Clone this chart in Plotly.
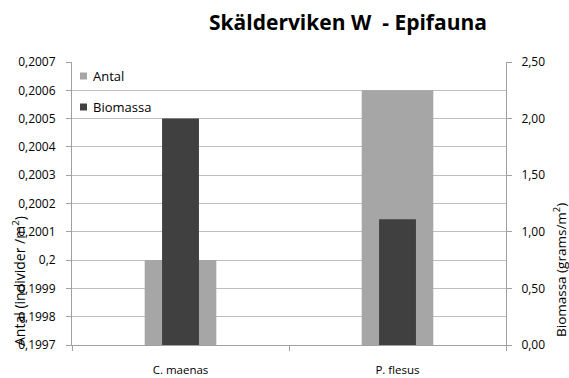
import plotly.graph_objects as go

categories = ["C. maenas", "P. flesus"]
antal = [0.2000, 0.2006]
biomassa = [2.00, 1.11]

left_ticks = [0.1997, 0.1998, 0.1999, 0.2000, 0.2001, 0.2002, 0.2003, 0.2004, 0.2005, 0.2006, 0.2007]
left_labels = ["0,1997", "0,1998", "0,1999", "0,2", "0,2001", "0,2002", "0,2003",
               "0,2004", "0,2005", "0,2006", "0,2007"]
right_ticks = [0.0, 0.5, 1.0, 1.5, 2.0, 2.5]

series_names = ["Antal", "Biomassa"]
series_colors = ["#A6A6A6", "#404040"]

FONT = "Open Sans"
AXIS_GRAY = "#A0A0A0"
GRID_GRAY = "#BFBFBF"

# page and plot-area geometry (pixels)
W, H = 569, 378
L, R, T, B = 72, 63, 62, 33
pw, ph = W - L - R, H - T - B


def px_x(x):
    return (x - L) / pw


def px_y(y):
    return (H - B - y) / ph


fig = go.Figure()
fig.add_trace(go.Bar(
    x=categories, y=antal, name=series_names[0], yaxis="y",
    marker=dict(color=series_colors[0], line=dict(width=0)),
    width=0.33,
))
fig.add_trace(go.Bar(
    x=categories, y=biomassa, name=series_names[1], yaxis="y2",
    marker=dict(color=series_colors[1], line=dict(width=0)),
    width=0.17,
))

annotations = [
    dict(text="<b>Skälderviken W  - Epifauna</b>", x=px_x(348), y=px_y(22),
         font=dict(size=21, family=FONT)),
    dict(text="Antal (individer /m<sup>2</sup>)", textangle=-90,
         x=px_x(19), y=px_y(281), font=dict(size=14, family=FONT)),
    dict(text="Biomassa (grams/m<sup>2</sup>)", textangle=-90,
         x=px_x(560), y=px_y(270), font=dict(size=13.5, family=FONT)),
]
shapes = []

# legend: small swatches with labels, inside the top-left of the plot
legend_rows_y = [76, 107]
for name, color, yc in zip(series_names, series_colors, legend_rows_y):
    shapes.append(dict(
        type="rect", xref="paper", yref="paper",
        x0=px_x(80), x1=px_x(87), y0=px_y(yc - 3.5), y1=px_y(yc + 3.5),
        fillcolor=color, line=dict(width=0), layer="above",
    ))
    annotations.append(dict(
        text=name, x=px_x(91), y=px_y(yc), xanchor="left",
        font=dict(size=13, family=FONT),
    ))

for ann in annotations:
    ann.setdefault("xanchor", "center")
    ann["yanchor"] = "middle"
    ann["xref"] = "paper"
    ann["yref"] = "paper"
    ann["showarrow"] = False

fig.update_layout(
    width=W, height=H,
    margin=dict(l=L, r=R, t=T, b=B, autoexpand=False),
    paper_bgcolor="white", plot_bgcolor="white",
    barmode="overlay",
    separators=", ",
    font=dict(family=FONT, size=12, color="#000000"),
    showlegend=False,
    xaxis=dict(
        type="category", range=[-0.5, 1.5],
        showline=True, linecolor=AXIS_GRAY, linewidth=1,
        ticks="outside", tickson="boundaries", ticklen=5, tickcolor=AXIS_GRAY,
        ticklabelstandoff=14, automargin=False,
        tickfont=dict(size=11.5, family=FONT),
        showgrid=False, zeroline=False, fixedrange=True,
    ),
    yaxis=dict(
        range=[0.1997, 0.2007],
        tickvals=left_ticks, ticktext=left_labels,
        showline=True, linecolor=AXIS_GRAY, linewidth=1,
        ticks="outside", ticklen=5, tickcolor=AXIS_GRAY,
        ticklabelstandoff=8, automargin=False,
        showgrid=True, gridcolor=GRID_GRAY, gridwidth=1,
        zeroline=False, tickfont=dict(size=12, family=FONT),
    ),
    yaxis2=dict(
        overlaying="y", side="right",
        range=[0, 2.5], tickvals=right_ticks, tickformat=".2f",
        showline=True, linecolor=AXIS_GRAY, linewidth=1,
        ticks="outside", ticklen=5, tickcolor=AXIS_GRAY,
        ticklabelstandoff=7, automargin=False,
        showgrid=False, zeroline=False, tickfont=dict(size=12, family=FONT),
    ),
    annotations=annotations,
    shapes=shapes,
)

fig.write_html("out.html")
